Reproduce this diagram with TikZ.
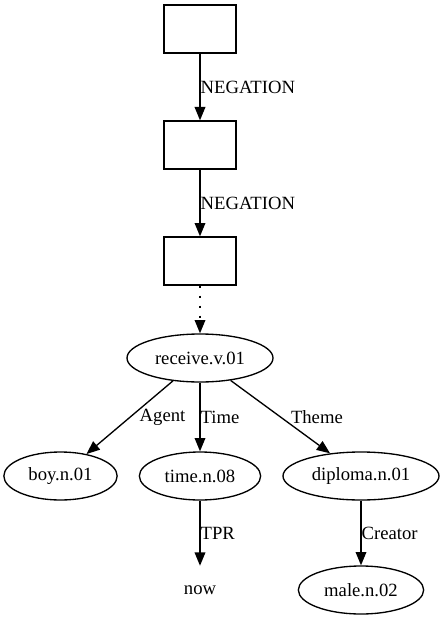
\documentclass[tikz,border=0pt]{standalone}
\usepackage{fontspec}
\setmainfont{Liberation Serif}
\usetikzlibrary{arrows.meta, shapes.geometric}

\tikzset{
  box/.style={draw, line width=1pt, rectangle, minimum width=54pt, minimum height=36pt, inner sep=0pt},
  concept/.style={draw, line width=1pt, ellipse, minimum height=36pt, inner sep=0pt},
  plain/.style={minimum width=54pt, minimum height=36pt, inner sep=0pt},
  rel/.style={line width=1pt, -{Triangle[length=10pt, width=8pt]}},
  lbl/.style={inner sep=0pt, anchor=west}
}

\begin{document}
\begin{tikzpicture}[x=0.75pt, y=-0.75pt, font=\fontsize{14}{16}\selectfont]
        \useasboundingbox (0,0) rectangle (443,620);

        \node[box] (neg1) at (200, 29) {};
        \node[box] (neg2) at (200, 145) {};
        \node[box] (neg3) at (200, 261) {};

        \node[concept, minimum width=109.5pt] (receive) at (200, 358) {receive.v.01};
        \node[concept, minimum width=85pt] (boy) at (60.5, 476) {boy.n.01};
        \node[concept, minimum width=91pt] (time) at (200, 476) {time.n.08};
        \node[concept, minimum width=117pt] (diploma) at (361, 476) {diploma.n.01};
        \node[plain] (now) at (200, 590) {now};
        \node[concept, minimum width=94pt] (male) at (361, 590) {male.n.02};

        \draw[rel] (neg1) -- (neg2) node[lbl, midway] {NEGATION};
        \draw[rel] (neg2) -- (neg3) node[lbl, midway] {NEGATION};
        \draw[rel, dash pattern=on 2pt off 5.5pt] (neg3) -- (receive);

        \draw[rel] (receive) -- (boy) node[lbl, midway, xshift=7pt] {Agent};
        \draw[rel] (receive) -- (time) node[lbl, midway] {Time};
        \draw[rel] (receive) -- (diploma) node[lbl, midway, xshift=7.5pt] {Theme};
        \draw[rel] (time) -- (now) node[lbl, midway] {TPR};
        \draw[rel] (diploma) -- (male) node[lbl, midway] {Creator};
    \end{tikzpicture}
\end{document}
